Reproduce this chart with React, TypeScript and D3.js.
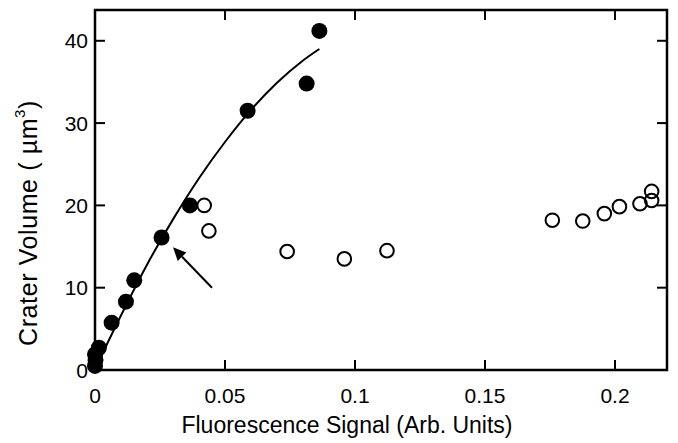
import React, { useEffect, useRef } from 'react';
import * as d3 from 'd3';

// filled circles (fitted series)
const filledX = [0, 0.0002, 0, 0.0015, 0.0064, 0.0119, 0.0151, 0.0256, 0.0365, 0.0587, 0.0814, 0.0863];
const filledY = [0.5, 1.2, 1.9, 2.7, 5.75, 8.3, 10.9, 16.1, 20.0, 31.5, 34.8, 41.2];

// open circles
const openX = [0.042, 0.0438, 0.0739, 0.0959, 0.1123, 0.1759, 0.1876, 0.1959, 0.2017, 0.2096, 0.2141, 0.2141];
const openY = [20.0, 16.9, 14.4, 13.5, 14.5, 18.2, 18.1, 19.0, 19.85, 20.2, 20.6, 21.7];

// fit curve
const fitX = [0, 0.005, 0.012, 0.02, 0.03, 0.04, 0.05, 0.06, 0.07, 0.08, 0.0863];
const fitY = [0, 3.4, 7.9, 12.8, 18.3, 23.3, 27.7, 31.6, 34.9, 37.6, 39.0];

const xTicks = [0, 0.05, 0.1, 0.15, 0.2];
const xTickLabels = ['0', '0.05', '0.1', '0.15', '0.2'];
const yTicks = [0, 10, 20, 30, 40];

// arrow annotation [tail, tip] in data units
const arrowFrom = [0.045, 10.0];
const arrowTo = [0.03, 14.9];

const FONT = '"Liberation Sans", Arial, Helvetica, sans-serif';

const App = () => {
  const ref = useRef<SVGSVGElement>(null);

  useEffect(() => {
    const svg = d3.select(ref.current);
    svg.selectAll('*').remove();

    const left = 95, right = 667, top = 10, bottom = 370;
    const x = d3.scaleLinear().domain([0, 0.22]).range([left, right]);
    const y = d3.scaleLinear().domain([0, 43.74]).range([bottom, top]);

    const tickLen = 10;
    const g = svg.append('g');

    // ticks, mirrored on all four sides, pointing inward
    xTicks.filter((t) => t > 0).forEach((t) => {
      g.append('line').attr('x1', x(t)).attr('x2', x(t)).attr('y1', bottom).attr('y2', bottom - tickLen)
        .attr('stroke', '#000').attr('stroke-width', 2);
      g.append('line').attr('x1', x(t)).attr('x2', x(t)).attr('y1', top).attr('y2', top + tickLen)
        .attr('stroke', '#000').attr('stroke-width', 2);
    });
    yTicks.filter((t) => t > 0).forEach((t) => {
      g.append('line').attr('x1', left).attr('x2', left + tickLen).attr('y1', y(t)).attr('y2', y(t))
        .attr('stroke', '#000').attr('stroke-width', 2);
      g.append('line').attr('x1', right).attr('x2', right - tickLen).attr('y1', y(t)).attr('y2', y(t))
        .attr('stroke', '#000').attr('stroke-width', 2);
    });

    // tick labels
    xTicks.forEach((t, i) => {
      g.append('text').attr('x', x(t)).attr('y', 403).attr('text-anchor', 'middle')
        .attr('font-family', FONT).attr('font-size', 21).text(xTickLabels[i]);
    });
    yTicks.forEach((t) => {
      g.append('text').attr('x', 88).attr('y', y(t) + 7.5).attr('text-anchor', 'end')
        .attr('font-family', FONT).attr('font-size', 21).text(String(t));
    });

    // fit curve
    const pts = fitX.map((v, i) => [v, fitY[i]] as [number, number]);
    const line = d3.line<[number, number]>()
      .x((d) => x(d[0]))
      .y((d) => y(d[1]))
      .curve(d3.curveCatmullRom);
    g.append('path').attr('d', line(pts) as string).attr('fill', 'none')
      .attr('stroke', '#000').attr('stroke-width', 2);

    // filled markers
    filledX.forEach((v, i) => {
      g.append('circle').attr('cx', x(v)).attr('cy', y(filledY[i])).attr('r', 8).attr('fill', '#000');
    });

    // open markers
    openX.forEach((v, i) => {
      g.append('circle').attr('cx', x(v)).attr('cy', y(openY[i])).attr('r', 6.8)
        .attr('fill', 'none').attr('stroke', '#000').attr('stroke-width', 2);
    });

    // arrow
    const x0 = x(arrowFrom[0]), y0 = y(arrowFrom[1]);
    const x1 = x(arrowTo[0]), y1 = y(arrowTo[1]);
    const ang = Math.atan2(y1 - y0, x1 - x0);
    const hl = 13, hw = 6;
    const bx = x1 - hl * Math.cos(ang), by = y1 - hl * Math.sin(ang);
    g.append('line').attr('x1', x0).attr('y1', y0).attr('x2', bx).attr('y2', by)
      .attr('stroke', '#000').attr('stroke-width', 2);
    g.append('path')
      .attr('d', `M${x1},${y1}L${bx + hw * Math.sin(ang)},${by - hw * Math.cos(ang)}L${bx - hw * Math.sin(ang)},${by + hw * Math.cos(ang)}Z`)
      .attr('fill', '#000');

    // frame
    g.append('rect').attr('x', left).attr('y', top).attr('width', right - left).attr('height', bottom - top)
      .attr('fill', 'none').attr('stroke', '#000').attr('stroke-width', 2.5);

    // axis titles
    g.append('text').attr('x', 347).attr('y', 433).attr('text-anchor', 'middle')
      .attr('font-family', FONT).attr('font-size', 23).text('Fluorescence Signal (Arb. Units)');

    const yt = g.append('text').attr('transform', 'translate(37,223) rotate(-90)')
      .attr('text-anchor', 'middle').attr('font-family', FONT).attr('font-size', 25)
      .attr('letter-spacing', 0.6);
    yt.append('tspan').text('Crater Volume ( \u00b5m');
    yt.append('tspan').attr('font-size', 15).attr('dy', -12).text('3');
    yt.append('tspan').attr('dy', 12).text(')');
  }, []);

  return (
    <svg ref={ref} width={678} height={443}
      style={{ position: 'absolute', left: 0, top: 0, background: '#fff' }} />
  );
};

export default App;
